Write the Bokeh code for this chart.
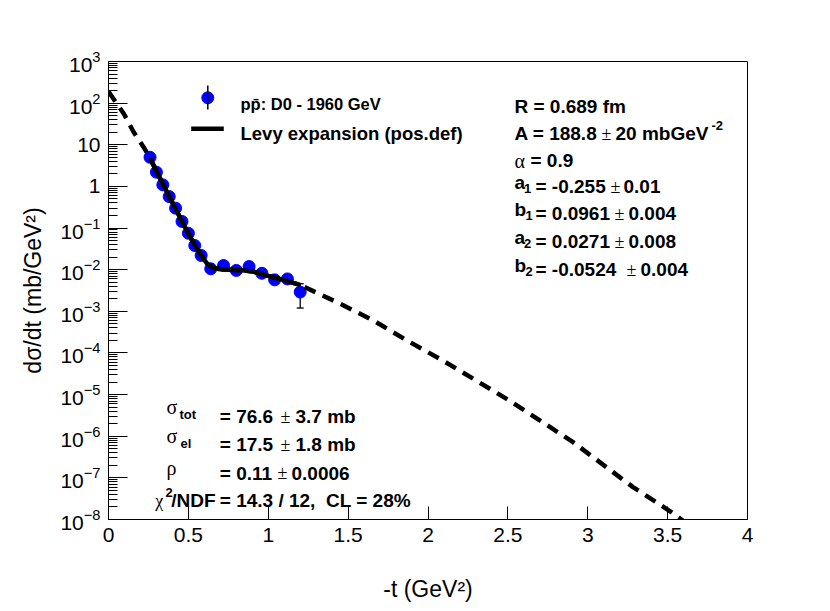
from bokeh.plotting import figure
from bokeh.models import Range1d, FixedTicker, LogTickFormatter, Whisker, ColumnDataSource, Label, TeeHead
from bokeh.embed import file_html
from bokeh.resources import INLINE

# ---- data ----
t_data = [0.26, 0.30, 0.34, 0.38, 0.42, 0.46, 0.50, 0.54, 0.58, 0.64,
          0.72, 0.80, 0.88, 0.96, 1.04, 1.12, 1.20]
dsdt_data = [5.0, 2.2, 1.09, 0.57, 0.30, 0.144, 0.075, 0.038, 0.022, 0.0105,
             0.0126, 0.0096, 0.0119, 0.0082, 0.0057, 0.0060, 0.0029]
dsdt_err = [0.4, 0.17, 0.08, 0.04, 0.02, 0.01, 0.005, 0.003, 0.0017, 0.0009,
            0.0011, 0.0009, 0.0011, 0.0009, 0.0008, 0.0009, 0.0017]

# Levy fit in the fitted range (solid)
fit_t = [0.26, 0.30, 0.34, 0.38, 0.42, 0.46, 0.50, 0.54, 0.58, 0.62, 0.66,
         0.70, 0.75, 0.80, 0.85, 0.90, 0.95, 1.00, 1.05, 1.10, 1.15, 1.20]
fit_dsdt = [4.8, 2.3, 1.15, 0.575, 0.29, 0.145, 0.074, 0.039, 0.022, 0.0135, 0.011,
            0.0102, 0.0100, 0.0098, 0.0095, 0.0091, 0.0081, 0.0071, 0.0063, 0.0056, 0.0049, 0.0043]

# extrapolation (dashed), below and above the fitted range
ext_lo_t = [0.0, 0.096, 0.158, 0.22]
ext_lo_dsdt = [190.0, 55.5, 20.0, 8.75]
ext_hi_t = [1.45, 1.658, 1.867, 2.075, 2.283, 2.492, 2.70, 2.908, 3.117, 3.283, 3.43, 3.523, 3.62]
ext_hi_dsdt = [1.52e-3, 6.03e-4, 2.0e-4, 7.2e-5, 2.4e-5, 7.9e-6, 2.4e-6, 7.2e-7, 1.8e-7,
               6.0e-8, 2.6e-8, 1.5e-8, 8.0e-9]

x_ticks = [0, 0.5, 1, 1.5, 2, 2.5, 3, 3.5, 4]
x_tick_labels = ["0", "0.5", "1", "1.5", "2", "2.5", "3", "3.5", "4"]
y_decades = list(range(-8, 4))

legend_labels = ["p", "p\u0304: D0 - 1960 GeV", "Levy expansion (pos.def)"]

# ---- figure ----
W, H = 830, 611
FX0, FX1, FY0, FY1 = 108.0, 747.0, 61.0, 519.0   # frame edges in pixels
p = figure(width=W, height=H, x_range=Range1d(0, 4), y_range=Range1d(1e-8, 1e3),
           y_axis_type="log", output_backend="svg", toolbar_location=None,
           min_border_left=int(FX0), min_border_right=int(W - FX1),
           min_border_top=int(FY0), min_border_bottom=int(H - FY1),
           background_fill_color="white", border_fill_color="white")
p.xgrid.visible = False
p.ygrid.visible = False
p.outline_line_color = "black"
p.outline_line_width = 1
p.outline_line_alpha = 1.0

FONT = "Liberation Sans"
GREEK = "Liberation Serif"

xa = p.xaxis[0]
xa.ticker = FixedTicker(ticks=x_ticks, minor_ticks=[])
xa.major_label_overrides = dict(zip(x_ticks, x_tick_labels))
xa.major_tick_in = 13
xa.major_tick_out = 0
xa.minor_tick_in = 0
xa.minor_tick_out = 0
xa.major_label_standoff = 8
xa.major_label_text_font = FONT
xa.major_label_text_font_size = "21px"
xa.major_label_text_color = "black"
xa.axis_label = "-t (GeV\u00b2)"
xa.axis_label_text_font = FONT
xa.axis_label_text_font_size = "23px"
xa.axis_label_text_font_style = "normal"
xa.axis_label_text_color = "black"
xa.axis_label_standoff = 31
xa.axis_line_color = "black"
xa.major_tick_line_color = "black"

ya = p.yaxis[0]
ya.ticker = FixedTicker(ticks=[10.0 ** e for e in y_decades],
                        minor_ticks=[k * 10.0 ** e for e in y_decades[:-1] for k in range(2, 10)])
ya.formatter = LogTickFormatter()
ya.major_label_overrides = {10.0: "10", 1.0: "1"}
ya.major_tick_in = 19
ya.major_tick_out = 0
ya.minor_tick_in = 9
ya.minor_tick_out = 0
ya.major_label_standoff = 8
ya.major_label_text_font = FONT
ya.major_label_text_font_size = "21px"
ya.major_label_text_color = "black"
ya.axis_label = "d\u03c3/dt (mb/GeV\u00b2)"
ya.axis_label_text_font = FONT
ya.axis_label_text_font_size = "23px"
ya.axis_label_text_font_style = "normal"
ya.axis_label_text_color = "black"
ya.axis_label_standoff = 11
ya.axis_line_color = "black"
ya.major_tick_line_color = "black"
ya.minor_tick_line_color = "black"

# ---- data marks ----
src = ColumnDataSource(dict(
    t=t_data, y=dsdt_data,
    lo=[v - e for v, e in zip(dsdt_data, dsdt_err)],
    hi=[v + e for v, e in zip(dsdt_data, dsdt_err)],
))
wk = Whisker(base="t", lower="lo", upper="hi", dimension="height", source=src,
             line_color="black", line_width=1.3, level="underlay",
             lower_head=TeeHead(size=7, line_color="black", line_width=1.3),
             upper_head=TeeHead(size=7, line_color="black", line_width=1.3))
p.add_layout(wk)
p.scatter("t", "y", source=src, size=12, marker="circle", fill_color="#0000ff", line_color="#0000ff")

dash_t = ext_lo_t + fit_t + ext_hi_t
dash_y = ext_lo_dsdt + fit_dsdt + ext_hi_dsdt
p.line(dash_t, dash_y, line_color="black", line_width=4.5, line_dash="12 8")
p.line(fit_t, fit_dsdt, line_color="black", line_width=4.5)

# ---- pixel helpers for the annotations ----
def dx(px):
    return (px - FX0) / (FX1 - FX0) * 4.0

def dy(py):
    return 10 ** (3.0 - (py - FY0) / (FY1 - FY0) * 11.0)

def txt(px, py, s, size="19px", font=FONT, style="bold"):
    p.add_layout(Label(x=dx(px), y=dy(py), text=s, text_font=font, text_font_style=style,
                       text_font_size=size, text_baseline="alphabetic", text_align="left",
                       text_color="black"))

PM = dict(font=GREEK, style="normal", size="18px")
GR = dict(font=GREEK, style="normal", size="20px")
SUB = "13px"

# ---- legend ----
p.scatter([dx(207.3)], [dy(97.3)], size=12, marker="circle", fill_color="#0000ff", line_color="#0000ff")
p.segment([dx(207.3)], [dy(85)], [dx(207.3)], [dy(109)], line_color="black", line_width=1.5)
p.line([dx(190.7), dx(223.3)], [dy(128.3), dy(128.3)], line_color="black", line_width=4.5)
txt(240, 103.5, legend_labels[0] + legend_labels[1], size="16.5px")
txt(240, 132.7, legend_labels[2], size="18.5px")

# ---- fit parameters (top right) ----
txt(514, 106.4, "R = 0.689 fm")
txt(514, 133, "A = 188.8")
txt(601, 133, "\u00b1", **PM)
txt(615, 133, "20 mbGeV")
txt(711, 125, "-2", size=SUB)
txt(514, 160.4, "\u03b1", **GR)
txt(530, 160.4, "= 0.9")

rows = [
    (186.4, "a", "1", 523.5, "= -0.255", 610, "0.01", 623),
    (213.4, "b", "1", 525.0, "= 0.0961", 614, "0.004", 628),
    (241.4, "a", "2", 523.5, "= 0.0271", 614, "0.008", 628),
    (269.4, "b", "2", 525.0, "= -0.0524", 626, "0.004", 640),
]
for base, let, sub, xs, val, xpm, err, xerr in rows:
    txt(514, base - 4, let)
    txt(xs, base + 1.5, sub, size=SUB)
    txt(535, base, val)
    txt(xpm, base, "\u00b1", **PM)
    txt(xerr, base, err)

# ---- derived quantities (bottom left) ----
txt(166, 406.7, "\u03c3", **GR)
txt(179, 414, "tot", size=SUB)
txt(219.3, 416, "= 76.6")
txt(280, 416, "\u00b1", **PM)
txt(295, 416, "3.7 mb")

txt(166, 435, "\u03c3", **GR)
txt(180, 442.7, "el", size=SUB)
txt(219.3, 444.3, "= 17.5")
txt(280, 444.3, "\u00b1", **PM)
txt(295, 444.3, "1.8 mb")

txt(166, 467, "\u03c1", **GR)
txt(219.3, 472.7, "= 0.11")
txt(277, 472.7, "\u00b1", **PM)
txt(291, 472.7, "0.0006")

txt(154.7, 500, "\u03c7", font=GREEK, style="normal", size="18px")
txt(165, 492, "2", size=SUB)
txt(170.7, 500, "/NDF")
txt(219.3, 500, "= 14.3 / 12,\u00a0 CL = 28%")

open("out.html", "w").write(file_html(p, INLINE))
